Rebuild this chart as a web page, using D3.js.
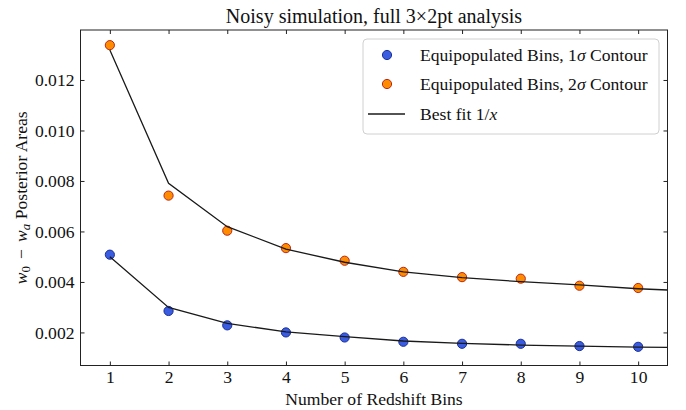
<!DOCTYPE html>
<html>
<head>
<meta charset="utf-8">
<script src="https://cdn.jsdelivr.net/npm/d3@7"></script>
<style>
  html, body { margin: 0; padding: 0; background: #fff; }
  svg text { font-family: "Liberation Serif", "DejaVu Serif", serif; fill: #111; }
</style>
</head>
<body>
<svg id="chart" width="686" height="410"></svg>
<script>
// ---- data ----
const bins = [1, 2, 3, 4, 5, 6, 7, 8, 9, 10];
const sigma1 = [0.00508, 0.00285, 0.00228, 0.00200, 0.00180, 0.00163, 0.00155, 0.00155, 0.00146, 0.00143];
const sigma2 = [0.01338, 0.00742, 0.00603, 0.00534, 0.00484, 0.00440, 0.00419, 0.00413, 0.00385, 0.00376];
const fitX = [1, 2, 3, 4, 5, 6, 7, 8, 9, 10, 10.5];
const fit1 = [0.00500, 0.00299, 0.00236, 0.00202, 0.00183, 0.00166, 0.00157, 0.00150, 0.00146, 0.00142, 0.00141];
const fit2 = [0.01319, 0.00791, 0.00619, 0.00530, 0.00478, 0.00440, 0.00417, 0.00401, 0.00388, 0.00373, 0.00368];
const xTicks = [1, 2, 3, 4, 5, 6, 7, 8, 9, 10];
const yTicks = [0.002, 0.004, 0.006, 0.008, 0.010, 0.012];
const titleText = "Noisy simulation, full 3\u00d72pt analysis";
const xLabel = "Number of Redshift Bins";

// ---- layout ----
const L = 80.5, R = 667.5, T = 30, B = 365.5;
const FS = "17.6px";
const svg = d3.select("#chart");
const x = d3.scaleLinear().domain([0.5, 10.5]).range([L, R]);
const y = d3.scaleLinear().domain([0.00069, 0.01398]).range([B, T]);

const blueFill = "#3a5ce0", blueEdge = "#1c2f95";
const orFill = "#ff8c00", orEdge = "#b8261a";

svg.append("defs").append("clipPath").attr("id", "clip")
  .append("rect").attr("x", L).attr("y", T).attr("width", R - L).attr("height", B - T);

const plot = svg.append("g").attr("clip-path", "url(#clip)");

function pts(vals, fill, edge) {
  plot.append("g").selectAll("circle").data(bins).join("circle")
    .attr("cx", (d) => x(d)).attr("cy", (d, i) => y(vals[i])).attr("r", 4.6)
    .attr("fill", fill).attr("stroke", edge).attr("stroke-width", 1);
}
pts(sigma1, blueFill, blueEdge);
pts(sigma2, orFill, orEdge);

const line = d3.line().x((d) => x(d[0])).y((d) => y(d[1]));
[fit1, fit2].forEach((f) => {
  plot.append("path").datum(fitX.map((v, i) => [v, f[i]]))
    .attr("d", line).attr("fill", "none").attr("stroke", "#1a1a1a").attr("stroke-width", 1.3);
});

const fmtY = d3.format(".3f");
function styleAxis(g) {
  g.select(".domain").remove();
  g.selectAll("line").attr("stroke", "#222").attr("stroke-width", 1);
  g.selectAll("text").style("font-size", FS).style("font-family", "'Liberation Serif', serif").attr("fill", "#111");
}
svg.append("g").attr("transform", `translate(0,${B})`)
  .call(d3.axisBottom(x).tickValues(xTicks).tickSizeInner(-4).tickSizeOuter(0).tickPadding(5).tickFormat(d3.format("d")))
  .call(styleAxis);
svg.append("g").attr("transform", `translate(0,${T})`)
  .call(d3.axisTop(x).tickValues(xTicks).tickSizeInner(-4).tickSizeOuter(0).tickFormat(""))
  .call(styleAxis);
svg.append("g").attr("transform", `translate(${L},0)`)
  .call(d3.axisLeft(y).tickValues(yTicks).tickSizeInner(-4).tickSizeOuter(0).tickPadding(6).tickFormat(fmtY))
  .call(styleAxis);
svg.append("g").attr("transform", `translate(${R},0)`)
  .call(d3.axisRight(y).tickValues(yTicks).tickSizeInner(-4).tickSizeOuter(0).tickFormat(""))
  .call(styleAxis);

svg.append("rect").attr("x", L).attr("y", T).attr("width", R - L).attr("height", B - T)
  .attr("fill", "none").attr("stroke", "#222").attr("stroke-width", 1);

svg.append("text").attr("x", (L + R) / 2).attr("y", 23).attr("text-anchor", "middle")
  .style("font-size", "20px").text(titleText);

svg.append("text").attr("x", (L + R) / 2).attr("y", 405).attr("text-anchor", "middle")
  .style("font-size", FS).text(xLabel);

const yl = svg.append("text").attr("transform", `translate(27,${(T + B) / 2}) rotate(-90)`)
  .attr("text-anchor", "middle").style("font-size", FS);
yl.append("tspan").style("font-style", "italic").text("w");
yl.append("tspan").attr("dy", 3).style("font-size", "13px").text("0");
yl.append("tspan").attr("dy", -3).text("\u2009\u2009\u2212\u2009\u2009");
yl.append("tspan").style("font-style", "italic").text("w");
yl.append("tspan").attr("dy", 3).style("font-size", "13px").style("font-style", "italic").text("a");
yl.append("tspan").attr("dy", -3).text(" Posterior Areas");

const lg = svg.append("g");
lg.append("rect").attr("x", 363).attr("y", 39).attr("width", 296).attr("height", 95)
  .attr("rx", 4).attr("fill", "#fff").attr("fill-opacity", 0.85).attr("stroke", "#d0d0d0").attr("stroke-width", 1);
const rows = [55, 84, 114];
lg.append("circle").attr("cx", 387).attr("cy", rows[0]).attr("r", 4.6).attr("fill", blueFill).attr("stroke", blueEdge);
lg.append("circle").attr("cx", 387).attr("cy", rows[1]).attr("r", 4.6).attr("fill", orFill).attr("stroke", orEdge);
lg.append("line").attr("x1", 368).attr("x2", 405).attr("y1", rows[2]).attr("y2", rows[2]).attr("stroke", "#1a1a1a").attr("stroke-width", 1.5);
function legText(yy, parts) {
  const t = lg.append("text").attr("x", 420).attr("y", yy + 6).style("font-size", FS);
  parts.forEach((p) => { const s = t.append("tspan").text(p[0]); if (p[1]) s.style("font-style", "italic"); });
}
legText(rows[0], [["Equipopulated Bins, 1"], ["\u03c3", true], [" Contour"]]);
legText(rows[1], [["Equipopulated Bins, 2"], ["\u03c3", true], [" Contour"]]);
legText(rows[2], [["Best fit 1/"], ["x", true]]);
</script>
</body>
</html>
